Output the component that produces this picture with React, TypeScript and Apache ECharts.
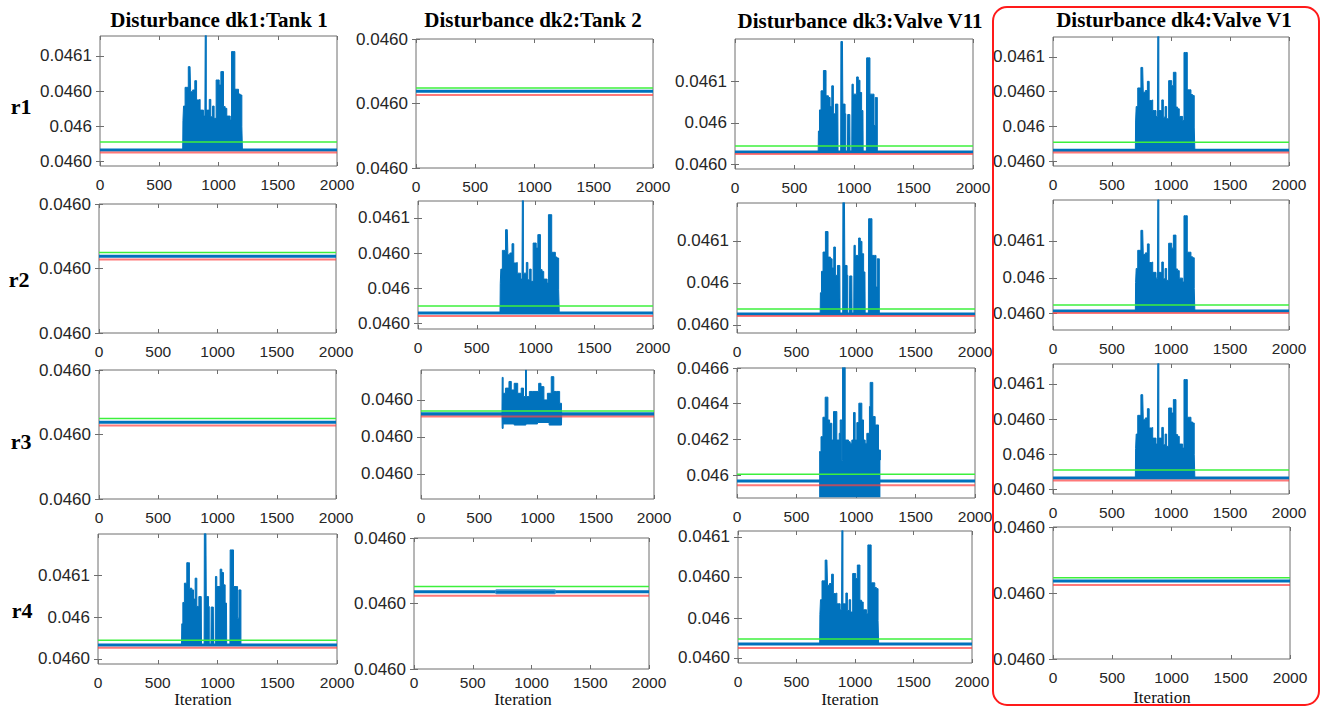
import React, { useEffect, useRef } from 'react';
import * as echarts from 'echarts';

// ---------------- DATA ----------------
const columnTitles = ['Disturbance dk1:Tank 1', 'Disturbance dk2:Tank 2', 'Disturbance dk3:Valve V11', 'Disturbance dk4:Valve V1'];
const rowNames = ['r1', 'r2', 'r3', 'r4'];
const xAxisTitle = 'Iteration';
const xRange = [0, 2000];
const xTickStep = 500;

// residual shape A (solid burst)
const iterA = [0, 698, 700, 705, 718, 730, 745, 760, 765, 782, 800, 815, 835, 845, 862, 873, 885, 888, 893, 897, 908, 922, 935, 950, 963, 980, 992, 1006, 1020, 1028, 1042, 1056, 1070, 1099, 1110, 1124, 1138, 1155, 1169, 1183, 1197, 1202, 2000];
const valA = [0.0460063, 0.0460063, 0.0460231, 0.0460314, 0.0460421, 0.0460421, 0.0460539, 0.0460539, 0.0460396, 0.0460406, 0.0460459, 0.0460349, 0.0460352, 0.0460291, 0.0460291, 0.0460257, 0.0460257, 0.0460720, 0.0460720, 0.0460291, 0.0460291, 0.0460352, 0.0460253, 0.0460314, 0.0460244, 0.0460463, 0.0460463, 0.0460434, 0.0460511, 0.0460511, 0.0460311, 0.0460301, 0.0460257, 0.0460234, 0.0460625, 0.0460625, 0.0460410, 0.0460410, 0.0460383, 0.0460377, 0.0460196, 0.0460063, 0.0460063];

// residual shape B (burst with gaps)
const iterB = [0, 699, 701, 710, 723, 743, 757, 765, 785, 799, 813, 827, 844, 864, 866, 888, 890, 903, 906, 925, 929, 931, 945, 947, 965, 967, 981, 983, 994, 1022, 1036, 1050, 1064, 1075, 1077, 1104, 1106, 1120, 1134, 1156, 1168, 1179, 1190, 1196, 2000];
const valB = [0.0460067, 0.0460067, 0.0460168, 0.0460270, 0.0460362, 0.0460460, 0.0460460, 0.0460338, 0.0460330, 0.0460286, 0.0460386, 0.0460251, 0.0460298, 0.0460298, 0.0460067, 0.0460067, 0.0460600, 0.0460600, 0.0460298, 0.0460251, 0.0460251, 0.0460067, 0.0460067, 0.0460248, 0.0460248, 0.0460067, 0.0460067, 0.0460394, 0.0460346, 0.0460429, 0.0460413, 0.0460354, 0.0460267, 0.0460267, 0.0460067, 0.0460067, 0.0460521, 0.0460521, 0.0460346, 0.0460346, 0.0460195, 0.0460330, 0.0460330, 0.0460067, 0.0460067];

// residual shape C (r3, dk3: large oscillation)
const iterC = [690, 706, 722, 741, 755, 764, 778, 797, 811, 825, 839, 859, 867, 881, 887, 898, 909, 937, 951, 965, 979, 993, 1007, 1024, 1035, 1049, 1063, 1077, 1091, 1113, 1119, 1127, 1141, 1161, 1175, 1189, 1205];
const valC = [0.0461313, 0.0462156, 0.0463244, 0.0464369, 0.0464369, 0.0463094, 0.0462906, 0.0461969, 0.0463563, 0.0463563, 0.0461969, 0.0462344, 0.0463094, 0.0460844, 0.0466050, 0.0466050, 0.0461969, 0.0461875, 0.0461781, 0.0461969, 0.0463506, 0.0461969, 0.0462944, 0.0464031, 0.0464031, 0.0463094, 0.0461969, 0.0461781, 0.0462344, 0.0463844, 0.0465194, 0.0465194, 0.0463281, 0.0462813, 0.0462813, 0.0461406, 0.0460844];
const floorC = 0.045876;

// residual shape D (r3, dk2: noisy band)
const iterDUp = [695, 697, 705, 725, 755, 775, 800, 830, 860, 880, 897, 905, 930, 960, 1010, 1030, 1055, 1085, 1118, 1140, 1165, 1190, 1206, 1208];
const valDUp = [0.0460162, 0.0460261, 0.0460218, 0.0460232, 0.0460250, 0.0460227, 0.0460245, 0.0460218, 0.0460232, 0.0460209, 0.0460281, 0.0460209, 0.0460223, 0.0460223, 0.0460245, 0.0460236, 0.0460200, 0.0460218, 0.0460263, 0.0460223, 0.0460223, 0.0460191, 0.0460173, 0.0460162];
const iterDLow = [695, 697, 705, 800, 900, 1000, 1100, 1206, 1208];
const valDLow = [0.0460162, 0.0460123, 0.0460135, 0.0460132, 0.0460135, 0.0460139, 0.0460132, 0.0460135, 0.0460162];

// residual shape E (r4, dk2: tiny ripple)
const iterE = [692, 700, 1200, 1203];
const valEUp = [0.0460018, 0.0460021, 0.0460021, 0.0460018];
const valELow = [0.0460018, 0.0460015, 0.0460015, 0.0460018];

// per panel, row-major r1c1..r4c4
const plotShape = ['A', 'flat', 'B', 'A', 'flat', 'A', 'B', 'A', 'flat', 'D', 'C', 'A', 'B', 'E', 'A', 'flat'];
const yMin = [0.0459972, 0.045990, 0.0459985, 0.0459972, 0.045990, 0.0459972, 0.0459976, 0.0459951, 0.045990, 0.0459932, 0.0458725, 0.0459972, 0.0459976, 0.045990, 0.0459955, 0.045990];
const yMax = [0.0460714, 0.046010, 0.0460612, 0.0460714, 0.046010, 0.0460703, 0.0460596, 0.0460718, 0.046010, 0.0460281, 0.0466000, 0.0460714, 0.0460597, 0.046010, 0.0460704, 0.046010];
const ticksA1 = [0.046, 0.04602, 0.04604, 0.04606];
const ticksFlat = [0.04599, 0.046, 0.04601];
const yTicks = [
  ticksA1, ticksFlat, [0.0460009, 0.0460207, 0.0460409], ticksA1,
  ticksFlat, [0.0460006, 0.0460206, 0.0460406, 0.0460606], [0.0460015, 0.0460215, 0.0460415], [0.0460051, 0.0460258, 0.0460477],
  ticksFlat, [0.046, 0.04601, 0.04602], [0.046, 0.0462, 0.0464, 0.0466], ticksA1,
  [0.046, 0.04602, 0.04604], ticksFlat, [0.0459984, 0.046021, 0.0460443, 0.046067], ticksFlat,
];
const lab4 = ['0.0460', '0.046', '0.0460', '0.0461'];
const lab3 = ['0.0460', '0.046', '0.0461'];
const labFlat = ['0.0460', '0.0460', '0.0460'];
const labC = ['0.046', '0.0462', '0.0464', '0.0466'];
const yTickLabels = [lab4, labFlat, lab3, lab4, labFlat, lab4, lab3, lab3, labFlat, labFlat, labC, lab4, lab3, labFlat, lab4, labFlat];
const blueLevel = [0.0460063, 0.0460019, 0.0460067, 0.0460063, 0.0460019, 0.0460063, 0.0460067, 0.0460063, 0.0460019, 0.0460162, 0.0459681, 0.0460063, 0.0460067, 0.0460018, 0.0460063, 0.0460018];
const greenLevel = [0.0460109, 0.0460024, 0.0460096, 0.0460109, 0.0460025, 0.0460103, 0.0460091, 0.0460099, 0.0460025, 0.0460170, 0.0460056, 0.0460109, 0.0460089, 0.0460026, 0.0460091, 0.0460023];
const redLevel = [0.0460049, 0.0460013, 0.0460057, 0.0460049, 0.0460014, 0.0460046, 0.0460057, 0.0460051, 0.0460014, 0.0460155, 0.0459438, 0.0460049, 0.0460054, 0.0460012, 0.0460040, 0.0460012];

// ---------------- LAYOUT / STYLE ----------------
const GRID_BOXES = [
  [100, 36, 337, 166], [416, 39, 653, 168], [735, 39, 973, 169], [1053, 37, 1289, 166],
  [99, 204, 336, 333], [418, 201, 653, 329], [737, 203, 975, 333], [1053, 200, 1289, 330],
  [99, 370, 336, 499], [421, 370, 654, 499], [737, 368, 975, 498], [1053, 364, 1289, 494],
  [98, 534, 337, 664], [414, 538, 649, 669], [738, 531, 972, 663], [1053, 527, 1290, 659],
];
const X_LABEL_MARGIN = [10, 10, 10, 10, 10, 10, 10, 10, 10, 10, 10, 10, 10, 5, 10, 10];
const TITLE_POS = [[219, 20], [533, 20], [860, 21], [1174, 20]];
const ROW_POS = [[21, 106], [19, 279], [21, 441], [22, 610]];
const ITER_POS = [[203, 699], [523, 699], [850, 699], [1162, 697]];

const BLUE = '#0072BD';
const GREEN = '#3cf03c';
const RED = '#ff4040';
const AXIS_GRAY = '#6e6e6e';
const TEXT = '#262626';
const SANS = '"Liberation Sans", Arial, sans-serif';
const SERIF = '"Liberation Serif", "Times New Roman", serif';

const pairs = (xs: number[], ys: number[]) => xs.map((x, k) => [x, ys[k]]);
const level = (v: number) => [[xRange[0], v], [xRange[1], v]];

function tickLabel(i: number, v: number) {
  const t = yTicks[i];
  let best = 0;
  for (let k = 1; k < t.length; k++) if (Math.abs(t[k] - v) < Math.abs(t[best] - v)) best = k;
  return yTickLabels[i][best];
}

function buildOption() {
  const grid: any[] = [];
  const xAxis: any[] = [];
  const yAxis: any[] = [];
  const series: any[] = [];

  GRID_BOXES.forEach(([l, t, r, b], i) => {
    grid.push({ left: l, top: t, width: r - l, height: b - t, show: true, borderColor: AXIS_GRAY, borderWidth: 1, backgroundColor: 'transparent' });
    const xBase = {
      type: 'value', gridIndex: i, min: xRange[0], max: xRange[1], interval: xTickStep,
      axisLine: { show: false }, splitLine: { show: false },
      axisTick: { show: true, inside: true, length: 4, lineStyle: { color: AXIS_GRAY } },
    };
    xAxis.push({ ...xBase, position: 'bottom', axisLabel: { formatter: (v: number) => String(v), color: TEXT, fontFamily: SANS, fontSize: 15.5, margin: X_LABEL_MARGIN[i] } });
    xAxis.push({ ...xBase, position: 'top', axisLabel: { show: false } });
    const yBase = {
      type: 'value', gridIndex: i, min: yMin[i], max: yMax[i],
      axisLine: { show: false }, splitLine: { show: false },
      axisTick: { show: true, inside: true, length: 4, lineStyle: { color: AXIS_GRAY }, customValues: yTicks[i] },
    };
    yAxis.push({ ...yBase, position: 'left', axisLabel: { customValues: yTicks[i], formatter: (v: number) => tickLabel(i, v), color: TEXT, fontFamily: SANS, fontSize: 17, margin: 8 } });
    yAxis.push({ ...yBase, position: 'right', axisLabel: { show: false } });

    const ax = { xAxisIndex: 2 * i, yAxisIndex: 2 * i };
    const blueLine = (data: number[][], width: number, extra: any = {}) => ({
      type: 'line', ...ax, data, symbol: 'none', silent: true, animation: false, z: 2,
      lineStyle: { color: BLUE, width }, itemStyle: { color: BLUE }, ...extra,
    });
    const burst = (data: number[][], origin: number) =>
      blueLine(data, 1, { step: 'end', areaStyle: { color: BLUE, opacity: 1, origin } });
    const shape = plotShape[i];
    if (shape === 'A') {
      series.push(blueLine(level(blueLevel[i]), 3));
      series.push(burst(pairs(iterA, valA), blueLevel[i]));
    } else if (shape === 'B') {
      series.push(blueLine(level(blueLevel[i]), 3));
      series.push(burst(pairs(iterB, valB), blueLevel[i]));
    } else if (shape === 'C') {
      series.push(blueLine(level(blueLevel[i]), 3));
      series.push(burst(pairs(iterC, valC), floorC));
    } else if (shape === 'D') {
      series.push(blueLine(level(blueLevel[i]), 3.5));
      series.push(burst(pairs(iterDUp, valDUp), blueLevel[i]));
      series.push(burst(pairs(iterDLow, valDLow), blueLevel[i]));
    } else if (shape === 'E') {
      series.push(blueLine(level(blueLevel[i]), 3));
      series.push(blueLine(pairs(iterE, valEUp), 1.2, { lineStyle: { color: '#3a8fd0', width: 1.2 } }));
      series.push(blueLine(pairs(iterE, valELow), 1.2, { lineStyle: { color: '#3a8fd0', width: 1.2 } }));
    } else {
      series.push(blueLine(level(blueLevel[i]), 3));
    }
    series.push({ type: 'line', ...ax, data: level(redLevel[i]), symbol: 'none', silent: true, z: 3, lineStyle: { color: RED, width: 2, opacity: 0.7 } });
    series.push({ type: 'line', ...ax, data: level(greenLevel[i]), symbol: 'none', silent: true, z: 3, lineStyle: { color: GREEN, width: 1.5 } });
  });

  const graphic: any[] = [];
  columnTitles.forEach((t, c) => graphic.push({
    type: 'text', x: TITLE_POS[c][0], y: TITLE_POS[c][1], silent: true,
    style: { text: t, fontFamily: SERIF, fontWeight: 'bold', fontSize: 21, fill: '#000', align: 'center', verticalAlign: 'middle', textAlign: 'center', textVerticalAlign: 'middle' },
  }));
  rowNames.forEach((t, r) => graphic.push({
    type: 'text', x: ROW_POS[r][0], y: ROW_POS[r][1], silent: true,
    style: { text: t, fontFamily: SERIF, fontWeight: 'bold', fontSize: 22, fill: '#000', align: 'center', verticalAlign: 'middle', textAlign: 'center', textVerticalAlign: 'middle' },
  }));
  ITER_POS.forEach(([x, y]) => graphic.push({
    type: 'text', x, y, silent: true,
    style: { text: xAxisTitle, fontFamily: SERIF, fontSize: 17, fill: '#111', align: 'center', verticalAlign: 'middle', textAlign: 'center', textVerticalAlign: 'middle' },
  }));
  graphic.push({
    type: 'rect', silent: true, z: 10,
    shape: { x: 993, y: 7, width: 326, height: 698, r: 14 },
    style: { fill: 'none', stroke: '#ff1a1a', lineWidth: 2 },
  });

  return { animation: false, backgroundColor: '#fff', grid, xAxis, yAxis, series, graphic };
}

export default function App() {
  const ref = useRef<HTMLDivElement>(null);
  useEffect(() => {
    if (!ref.current) return;
    const chart = echarts.init(ref.current, null, { renderer: 'svg' });
    chart.setOption(buildOption() as any);
    return () => chart.dispose();
  }, []);
  return <div ref={ref} style={{ position: 'fixed', left: 0, top: 0, width: 1322, height: 709, background: '#fff' }} />;
}
